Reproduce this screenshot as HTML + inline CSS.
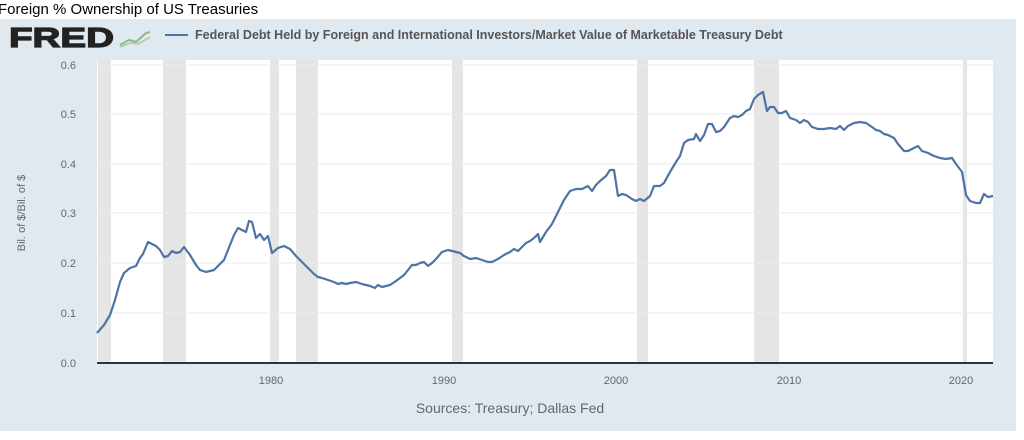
<!DOCTYPE html>
<html><head><style>
body{margin:0;width:1024px;height:435px;background:#fff;overflow:hidden;font-family:"Liberation Sans",sans-serif;}
</style></head><body>
<svg width="1024" height="435" xmlns="http://www.w3.org/2000/svg" font-family="Liberation Sans, sans-serif">
<rect x="0" y="0" width="1024" height="435" fill="#fff"/>
<rect x="0" y="19" width="1016" height="412" fill="#e1e9f0"/>
<text x="-2" y="14" font-size="15" fill="#000">Foreign % Ownership of US Treasuries</text>
<text x="9" y="47" font-size="28" font-weight="bold" fill="#222" stroke="#222" stroke-width="1.2" textLength="105" lengthAdjust="spacingAndGlyphs">FRED</text>
<polyline points="120,45 129,40 136,42 146,33 150,32" fill="none" stroke="#8fb88a" stroke-width="2"/>
<polyline points="120,47 130,43 138,44 150,37" fill="none" stroke="#a9c7a4" stroke-width="1.5"/>
<line x1="165" y1="35" x2="188" y2="35" stroke="#4e73a5" stroke-width="2"/>
<text x="195" y="39" font-size="12.5" font-weight="bold" fill="#555">Federal Debt Held by Foreign and International Investors/Market Value of Marketable Treasury Debt</text>
<rect x="97" y="60" width="896" height="303" fill="#fff"/>
<g fill="#e5e5e5">
<rect x="98" y="60" width="13" height="303"/><rect x="163" y="60" width="23" height="303"/>
<rect x="270" y="60" width="9" height="303"/><rect x="296" y="60" width="22" height="303"/>
<rect x="452" y="60" width="11" height="303"/><rect x="637" y="60" width="11" height="303"/>
<rect x="754" y="60" width="25" height="303"/><rect x="963" y="60" width="4" height="303"/>
</g>
<g stroke="#ebebeb" stroke-width="1">
<line x1="97" y1="65" x2="993" y2="65"/><line x1="97" y1="114" x2="993" y2="114"/>
<line x1="97" y1="164" x2="993" y2="164"/><line x1="97" y1="213" x2="993" y2="213"/>
<line x1="97" y1="263" x2="993" y2="263"/><line x1="97" y1="313" x2="993" y2="313"/>
</g>
<line x1="97" y1="363" x2="993" y2="363" stroke="#333" stroke-width="2"/>
<g font-size="11" fill="#666" text-anchor="end">
<text x="76" y="69">0.6</text><text x="76" y="118">0.5</text><text x="76" y="168">0.4</text>
<text x="76" y="217">0.3</text><text x="76" y="267">0.2</text><text x="76" y="317">0.1</text><text x="76" y="367">0.0</text>
</g>
<g font-size="11" fill="#666" text-anchor="middle">
<text x="271" y="384">1980</text><text x="444" y="384">1990</text><text x="616" y="384">2000</text>
<text x="789" y="384">2010</text><text x="961" y="384">2020</text>
</g>
<text transform="translate(25,213) rotate(-90)" font-size="11" fill="#666" text-anchor="middle">Bil. of $/Bil. of $</text>
<text x="510" y="413" font-size="14" fill="#666" text-anchor="middle">Sources: Treasury; Dallas Fed</text>
<polyline fill="none" stroke="#4e73a5" stroke-width="2.2" stroke-linejoin="round" points="97,333 104,325 110,315 115,300 120,282 124,273 130,268 136,266 140,258 143,254 148,242 152,244 156,246 160,250 164,257 168,256 172,251 176,253 180,252 184,247 190,255 196,265 200,270 206,272 214,270 218,266 224,260 228,250 234,235 238,228 242,230 246,232 249,221 252,222 256,238 260,234 264,240 268,236 272,253 278,248 284,246 290,249 296,256 302,262 306,266 310,270 314,274 318,277 322,278 328,280 334,282 338,284 342,283 346,284 350,283 356,282 362,284 366,285 370,286 375,288 378,285 382,287 386,286 390,285 396,281 400,278 404,275 408,270 412,265 416,265 420,263 424,262 428,266 432,263 436,259 442,252 448,250 452,251 456,252 460,253 464,256 470,259 476,258 482,260 488,262 492,262 498,259 504,255 510,252 514,249 518,251 522,247 526,243 530,241 534,238 538,234 540,242 546,232 552,224 558,212 564,200 570,191 576,189 582,189 588,186 592,191 596,185 600,181 606,176 610,170 614,170 618,196 622,194 626,195 632,199 636,201 640,199 644,201 650,196 654,186 660,186 664,183 670,172 676,162 680,156 684,143 688,140 694,139 696,134 700,141 704,135 708,124 712,124 716,132 720,131 724,127 730,118 734,116 738,117 742,115 746,111 750,109 754,99 758,95 763,92 767,111 770,107 774,107 778,113 782,113 786,111 790,118 796,120 800,123 804,120 808,122 812,127 818,129 824,129 830,128 836,129 840,126 844,130 848,126 854,123 860,122 866,123 872,127 876,130 880,131 884,134 888,135 894,138 898,144 904,151 908,151 914,148 918,146 922,151 928,153 934,156 940,158 946,159 952,158 956,164 962,172 966,195 970,201 976,203 980,203 984,194 988,197 993,196"/>
</svg>
</body></html>
